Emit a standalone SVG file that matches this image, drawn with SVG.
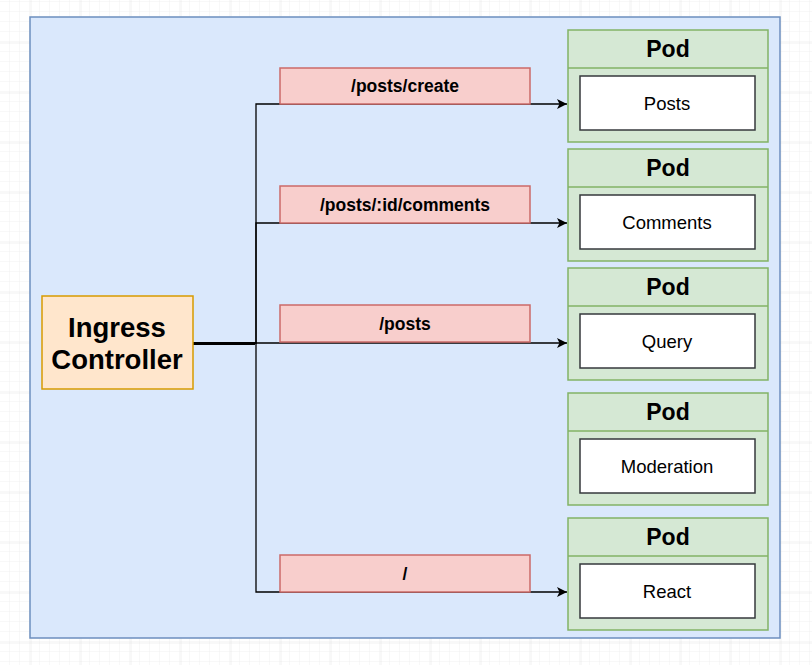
<svg xmlns="http://www.w3.org/2000/svg" width="812" height="665" viewBox="0 0 812 665">
<defs>
<pattern id="minor" x="0" y="2" width="10" height="10" patternUnits="userSpaceOnUse"><path d="M10 0V10M0 10H10" fill="none" stroke="#f1f1f1" stroke-width="1"/></pattern>
<pattern id="major" x="30.5" y="42.5" width="50" height="50" patternUnits="userSpaceOnUse"><path d="M0 0V50M0 0H50" fill="none" stroke="#e1e1e1" stroke-width="1"/></pattern>
<marker id="arr" viewBox="0 0 10 10" refX="10" refY="5" markerWidth="10" markerHeight="10" markerUnits="userSpaceOnUse" orient="auto"><path d="M0 0L10 5L0 10L2.5 5Z" fill="#000"/></marker>
</defs>
<style>
.pod{fill:#d5e8d4;stroke:#82b366;stroke-width:1.5}
.inner{fill:#fff;stroke:#36393d;stroke-width:1.5}
.lbl{fill:#f8cecc;stroke:#cb6a68;stroke-width:1.5}
.t{font-family:"Liberation Sans",Arial,sans-serif;text-anchor:middle}
.podt{font-size:23px;font-weight:bold}
.svc{font-size:18.5px}
.lt{font-size:17.5px;font-weight:bold}
.edge{fill:none;stroke:#000;stroke-width:1.3}
</style>
<rect width="812" height="665" fill="#fff"/>
<rect width="812" height="665" fill="url(#minor)"/>
<rect width="812" height="665" fill="url(#major)"/>
<g id="container"><rect x="30" y="17" width="750" height="621" fill="#dae8fc" stroke="#6c8ebf" stroke-width="1.5"/></g>
<g id="connectors">
<path class="edge" d="M193 343H256V104H567" marker-end="url(#arr)"/>
<path class="edge" d="M193 343H256V223H567" marker-end="url(#arr)"/>
<path class="edge" d="M193 343H567" marker-end="url(#arr)"/>
<path class="edge" d="M193 343H256V592H567" marker-end="url(#arr)"/>
<path d="M193 343.5H255" stroke="#000" stroke-width="3" fill="none"/>
</g>
<g id="ingress">
<rect x="42" y="296" width="151" height="93" fill="#ffe6cc" stroke="#d79b00" stroke-width="1.5"/>
<text class="t" x="117" y="337" font-size="27.5" font-weight="bold">Ingress</text>
<text class="t" x="117" y="369" font-size="27.5" font-weight="bold">Controller</text>
</g>
<g id="label-create"><rect class="lbl" x="280" y="68" width="250" height="36"/><text class="t lt" x="405" y="92">/posts/create</text></g>
<g id="label-comments"><rect class="lbl" x="280" y="186" width="250" height="37"/><text class="t lt" x="405" y="211">/posts/:id/comments</text></g>
<g id="label-posts"><rect class="lbl" x="280" y="305" width="250" height="37"/><text class="t lt" x="405" y="330">/posts</text></g>
<g id="label-root"><rect class="lbl" x="280" y="555" width="250" height="37"/><text class="t lt" x="405" y="580">/</text></g>
<g id="pod-posts"><rect class="pod" x="568" y="30" width="200" height="112"/><path d="M568 68H768" stroke="#82b366" stroke-width="1.5"/><text class="t podt" x="668" y="57">Pod</text><rect class="inner" x="580" y="76" width="175" height="54"/><text class="t svc" x="667" y="110">Posts</text></g>
<g id="pod-comments"><rect class="pod" x="568" y="149" width="200" height="112"/><path d="M568 187H768" stroke="#82b366" stroke-width="1.5"/><text class="t podt" x="668" y="176">Pod</text><rect class="inner" x="580" y="195" width="175" height="54"/><text class="t svc" x="667" y="229">Comments</text></g>
<g id="pod-query"><rect class="pod" x="568" y="268" width="200" height="112"/><path d="M568 306H768" stroke="#82b366" stroke-width="1.5"/><text class="t podt" x="668" y="295">Pod</text><rect class="inner" x="580" y="314" width="175" height="54"/><text class="t svc" x="667" y="348">Query</text></g>
<g id="pod-moderation"><rect class="pod" x="568" y="393" width="200" height="112"/><path d="M568 431H768" stroke="#82b366" stroke-width="1.5"/><text class="t podt" x="668" y="420">Pod</text><rect class="inner" x="580" y="439" width="175" height="54"/><text class="t svc" x="667" y="473">Moderation</text></g>
<g id="pod-react"><rect class="pod" x="568" y="518" width="200" height="112"/><path d="M568 556H768" stroke="#82b366" stroke-width="1.5"/><text class="t podt" x="668" y="545">Pod</text><rect class="inner" x="580" y="564" width="175" height="54"/><text class="t svc" x="667" y="598">React</text></g>
</svg>
